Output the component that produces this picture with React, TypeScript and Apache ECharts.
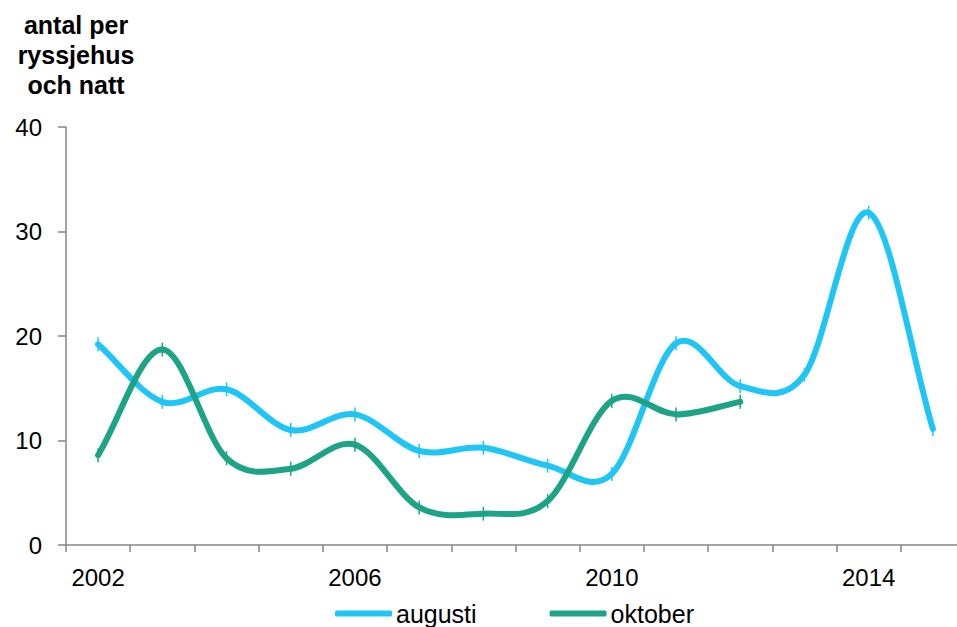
import React, { useEffect, useRef } from "react";
import * as echarts from "echarts";

const years = ["2002", "2003", "2004", "2005", "2006", "2007", "2008", "2009", "2010", "2011", "2012", "2013", "2014", "2015"];
const augusti = [19.2, 13.7, 14.9, 11.0, 12.5, 9.0, 9.3, 7.6, 6.8, 19.3, 15.2, 16.3, 31.8, 11.1];
const oktober = [8.6, 18.7, 8.3, 7.3, 9.6, 3.6, 3.0, 4.2, 13.8, 12.5, 13.7, null, null, null];
const yTicks = { min: 0, max: 40, interval: 10 };
const titleText = "antal per\nryssjehus\noch natt";

const FONT = "'Liberation Sans', Arial, sans-serif";
const AXIS_COLOR = "#868686";
const C_AUG = "#1EC5F5";
const C_OKT = "#1DA385";

function smoothSeries(name: string, values: (number | null)[], color: string) {
  const pts: [number, number][] = [];
  values.forEach((v, i) => {
    if (v != null) pts.push([i, v]);
  });
  return {
    type: "custom",
    name,
    data: pts,
    encode: { x: 0, y: 1 },
    itemStyle: { color },
    renderItem: (params: any, api: any) => {
      const i = params.dataIndex;
      const n = pts.length;
      const c = (k: number) => api.coord(pts[Math.max(0, Math.min(n - 1, k))]);
      const p1 = c(i);
      const children: any[] = [];
      if (i < n - 1) {
        const p0 = c(i - 1);
        const p2 = c(i + 1);
        const p3 = c(i + 2);
        const t1 = i === 0 ? [(p2[0] - p1[0]) / 3, (p2[1] - p1[1]) / 3] : [(p2[0] - p0[0]) / 6, (p2[1] - p0[1]) / 6];
        const t2 = i + 1 === n - 1 ? [(p2[0] - p1[0]) / 3, (p2[1] - p1[1]) / 3] : [(p3[0] - p1[0]) / 6, (p3[1] - p1[1]) / 6];
        const d =
          `M${p1[0]},${p1[1]} C${p1[0] + t1[0]},${p1[1] + t1[1]} ` +
          `${p2[0] - t2[0]},${p2[1] - t2[1]} ${p2[0]},${p2[1]}`;
        children.push({
          type: "path",
          shape: { pathData: d },
          style: { stroke: color, fill: "none", lineWidth: 6, lineCap: "round", lineJoin: "round" },
        });
      }
      children.push({
        type: "line",
        shape: { x1: p1[0], y1: p1[1] - 7, x2: p1[0], y2: p1[1] + 7 },
        style: { stroke: color, lineWidth: 1.5 },
      });
      return { type: "group", children };
    },
  };
}

export default function App() {
  const ref = useRef<HTMLDivElement>(null);
  useEffect(() => {
    document.body.style.margin = "0";
    const chart = echarts.init(ref.current!, null, { renderer: "svg" });
    chart.setOption({
      animation: false,
      textStyle: { fontFamily: FONT },
      title: {
        text: titleText,
        left: 71,
        top: 5,
        textAlign: "center",
        textStyle: { fontFamily: FONT, fontSize: 25, fontWeight: "bold", color: "#000", lineHeight: 30, align: "center" },
      },
      legend: {
        top: 601,
        left: 335,
        padding: 0,
        data: [
          { name: "augusti", itemStyle: { color: C_AUG } },
          { name: "oktober", itemStyle: { color: C_OKT } },
        ],
        icon: "roundRect",
        itemWidth: 57,
        itemHeight: 6,
        itemGap: 73,
        textStyle: { fontFamily: FONT, fontSize: 25, color: "#000", padding: [0, 0, 0, -1] },
      },
      grid: { left: 66, top: 127, width: 899, bottom: 82, containLabel: false, outerBoundsMode: "none" },
      xAxis: {
        type: "category",
        data: years,
        boundaryGap: true,
        axisLine: { lineStyle: { color: AXIS_COLOR, width: 1.5 } },
        axisTick: { show: true, interval: 0, length: 7, lineStyle: { color: AXIS_COLOR, width: 1.5 } },
        axisLabel: { interval: 3, margin: 20, fontSize: 24, color: "#000", fontFamily: FONT },
        splitLine: { show: false },
      },
      yAxis: {
        type: "value",
        min: yTicks.min,
        max: yTicks.max,
        interval: yTicks.interval,
        axisLine: { show: true, lineStyle: { color: AXIS_COLOR, width: 1.5 } },
        axisTick: { show: true, length: 8, lineStyle: { color: AXIS_COLOR, width: 1.5 } },
        axisLabel: { margin: 24, fontSize: 24, color: "#000", fontFamily: FONT },
        splitLine: { show: false },
      },
      series: [smoothSeries("augusti", augusti, C_AUG), smoothSeries("oktober", oktober, C_OKT)],
    });
    return () => chart.dispose();
  }, []);
  return <div ref={ref} style={{ width: 957, height: 627 }} />;
}
